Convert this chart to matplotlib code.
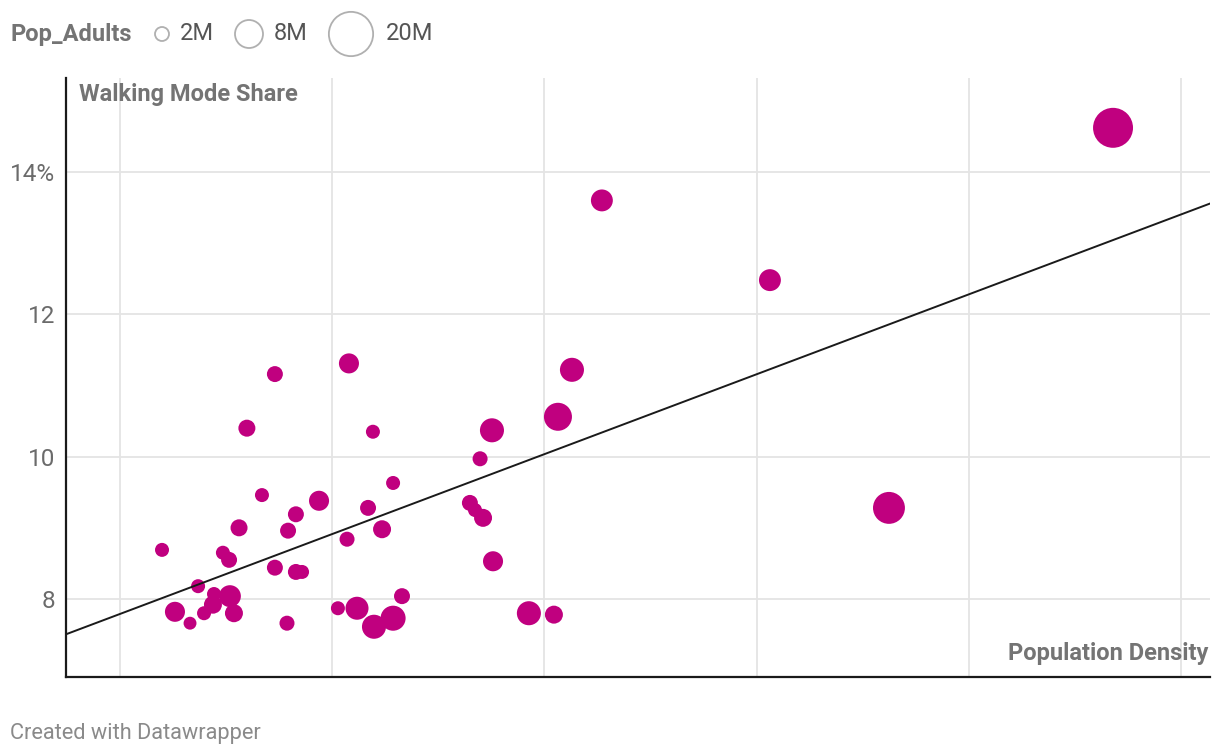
import numpy as np
from matplotlib import pyplot as plt

plt.rcParams['font.family'] = ['Roboto', 'DejaVu Sans']

# population density (arbitrary units, gridlines every 1000)
density = [1198, 1330, 1259, 1368, 1396, 1438, 1443, 1485, 1514, 1518,
           1537, 1561, 1598, 1669, 1730, 1730, 1787, 1792, 1829, 1829,
           1858, 1938, 2027, 2070, 2079, 2117, 2169, 2192, 2197, 2235,
           2287, 2287, 2329, 2649, 2673, 2697, 2711, 2753, 2758, 2927,
           3045, 3064, 3130, 3271, 4063, 4624, 5680]
# walking mode share in %
walking = [8.69, 7.66, 7.82, 8.18, 7.80, 7.92, 8.07, 8.65, 8.55, 8.04,
           7.80, 9.00, 10.40, 9.46, 11.16, 8.44, 7.66, 8.96, 9.19, 8.38,
           8.38, 9.38, 7.87, 8.84, 11.31, 7.87, 9.28, 10.35, 7.61, 8.98,
           9.63, 7.73, 8.04, 9.35, 9.25, 9.97, 9.14, 10.37, 8.53, 7.80,
           7.78, 10.56, 11.22, 13.60, 12.48, 9.28, 14.62]
# adult population in millions
pop_adults = [2.0, 1.7, 4.1, 2.0, 2.0, 3.3, 2.0, 2.0, 2.6, 4.9,
              3.3, 2.95, 2.95, 2.0, 2.6, 2.6, 2.3, 2.6, 2.6, 2.6,
              2.0, 4.1, 2.0, 2.3, 4.1, 5.4, 2.6, 2.0, 5.9, 3.3,
              2.0, 6.4, 2.6, 2.6, 2.0, 2.3, 3.3, 5.9, 4.1, 5.9,
              3.3, 8.0, 5.9, 4.9, 4.9, 10.4, 16.3]

legend_pops = [2, 8, 20]
legend_labels = ["2M", "8M", "20M"]
y_ticks = [8, 10, 12, 14]
y_tick_labels = ["8", "10", "12", "14%"]
x_grid = [1000, 2000, 3000, 4000, 5000, 6000]

W, H = 1220, 756
MAGENTA = "#c0007f"
GREY = "#747474"
SIZE_K = 50.8  # marker area (pt^2) per million adults


def main():
    fig = plt.figure(figsize=(W / 100, H / 100), dpi=100)
    ax = fig.add_axes([66 / W, (H - 677) / H, (1210 - 66) / W, (677 - 78) / H])

    ax.set_xlim(745.5, 6137)
    ax.set_ylim(6.904, 15.32)

    ax.set_xticks(x_grid)
    ax.set_xticklabels([])
    ax.set_yticks(y_ticks, y_tick_labels)
    ax.tick_params(length=0)
    ax.tick_params(axis='y', labelsize=17.5, labelcolor="#6b6b6b", pad=8)
    ax.grid(True, color="#e4e4e4", linewidth=1.3)
    ax.set_axisbelow(True)

    for side in ["top", "right"]:
        ax.spines[side].set_visible(False)
    for side in ["left", "bottom"]:
        ax.spines[side].set_color("#1a1a1a")
        ax.spines[side].set_linewidth(1.6)

    ax.scatter(density, walking, s=np.array(pop_adults) * SIZE_K,
               color=MAGENTA, linewidths=0, zorder=2)

    # regression line
    slope, intercept = np.polyfit(density, walking, 1)
    xs = np.array(ax.get_xlim())
    ax.plot(xs, slope * xs + intercept, color="#1a1a1a", linewidth=1.4, zorder=3)

    ax.text(0.0114, 0.973, "Walking Mode Share", transform=ax.transAxes,
            fontsize=17, fontweight="bold", color=GREY, va="center", ha="left")
    ax.text(0.9985, 0.040, "Population Density", transform=ax.transAxes,
            fontsize=17, fontweight="bold", color=GREY, va="center", ha="right")

    # size legend on an overlay in pixel coordinates
    lax = fig.add_axes([0, 0, 1, 1], facecolor="none")
    lax.set_xlim(0, W)
    lax.set_ylim(H, 0)
    lax.axis("off")
    lax.text(10, 34, "Pop_Adults", fontsize=17, fontweight="bold",
             color=GREY, va="center", ha="left")
    lx = [162, 249, 351]
    tx = [180, 274, 386]
    lax.scatter(lx, [34] * 3, s=np.array(legend_pops) * SIZE_K,
                facecolor="white", edgecolor="#b0b0b0", linewidths=1.3)
    for x, lab in zip(tx, legend_labels):
        lax.text(x, 34, lab, fontsize=17, color="#555555", va="center", ha="left")

    fig.text(10 / W, 1 - 733 / H, "Created with Datawrapper", fontsize=15.7,
             color="#8a8a8a", va="center", ha="left")

    fig.savefig("out.png", dpi=100)


if __name__ == '__main__':
    main()
